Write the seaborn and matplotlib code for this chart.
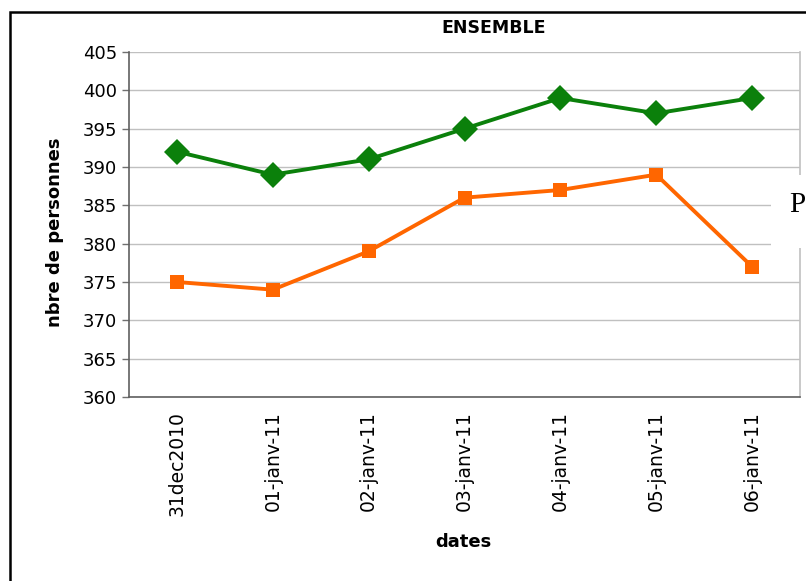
import pandas as pd
import matplotlib.pyplot as plt
import seaborn as sns
from matplotlib.patches import Rectangle
from matplotlib.ticker import FixedLocator, MultipleLocator

# data
dates = ["31dec2010", "01-janv-11", "02-janv-11", "03-janv-11",
         "04-janv-11", "05-janv-11", "06-janv-11"]
serie_verte = [392, 389, 391, 395, 399, 397, 399]
serie_orange = [375, 374, 379, 386, 387, 389, 377]

df = pd.DataFrame({
    "pos": list(range(len(dates))) * 2,
    "valeur": serie_verte + serie_orange,
    "serie": ["verte"] * len(dates) + ["orange"] * len(dates),
})

sns.set_style("white")
plt.rcParams["font.family"] = ["DejaVu Sans"]
plt.rcParams["text.color"] = "black"
plt.rcParams["xtick.color"] = "black"
plt.rcParams["ytick.color"] = "black"
plt.rcParams["axes.labelcolor"] = "black"

fig = plt.figure(figsize=(8.06, 5.81), dpi=100)
ax = fig.add_axes([129 / 806, 1 - 397 / 581, (800 - 129) / 806, (397 - 52) / 581])

sns.lineplot(data=df, x="pos", y="valeur", hue="serie", style="serie",
             palette={"verte": "#0b800b", "orange": "#ff6600"},
             markers={"verte": "D", "orange": "s"}, dashes=False,
             markersize=10, linewidth=2.8, markeredgewidth=0,
             legend=False, ax=ax)
# bigger diamond for the green series
ax.lines[0].set_markersize(13)

ax.set_ylim(360, 405)
ax.set_xlim(-0.5, len(dates) - 0.5)
ax.yaxis.set_major_locator(MultipleLocator(5))
ax.grid(axis="y", color="#c0c0c0", linewidth=1)
ax.set_axisbelow(True)

ax.set_xticks(range(len(dates)))
ax.set_xticklabels(dates, rotation=90, fontsize=13.5)
ax.xaxis.set_minor_locator(FixedLocator([i - 0.5 for i in range(len(dates) + 1)]))
ax.tick_params(axis="x", which="major", length=0, pad=10)
ax.tick_params(axis="x", which="minor", length=6, width=1, color="#707070", direction="out")
ax.tick_params(axis="y", labelsize=13, length=5, width=1, color="#707070", direction="out", left=True)

for side in ["left", "bottom"]:
    ax.spines[side].set_color("#606060")
    ax.spines[side].set_linewidth(1.2)
ax.spines["right"].set_color("#c0c0c0")
ax.spines["right"].set_linewidth(1.2)
ax.spines["top"].set_visible(False)

ax.set_xlabel("dates", fontsize=13, fontweight="bold")
ax.xaxis.set_label_coords((463 - 129) / 671, (397 - 533) / 345)
ax.set_ylabel("nbre de personnes", fontsize=13, fontweight="bold")
ax.yaxis.set_label_coords((64 - 129) / 671, (397 - 232) / 345)
fig.text(494 / 806, 1 - 28 / 581, "ENSEMBLE", fontsize=12.5, fontweight="bold",
         ha="center", va="center")

# outer chart frame
fig.patches.append(Rectangle((10 / 806, -0.05), 1.0, 1 - 12 / 581 + 0.05,
                             transform=fig.transFigure, fill=False,
                             edgecolor="black", linewidth=1.8))

# legend box, cut off at the right edge
fig.patches.append(Rectangle((771 / 806, 1 - 248 / 581), 0.1, 73 / 581,
                             transform=fig.transFigure, facecolor="white",
                             edgecolor="none", zorder=5))
fig.text(789 / 806, 1 - 205 / 581, "P", fontsize=21,
         family=["Liberation Serif", "DejaVu Serif"], ha="left", va="center", zorder=6)

fig.savefig("out.png", dpi=100)
